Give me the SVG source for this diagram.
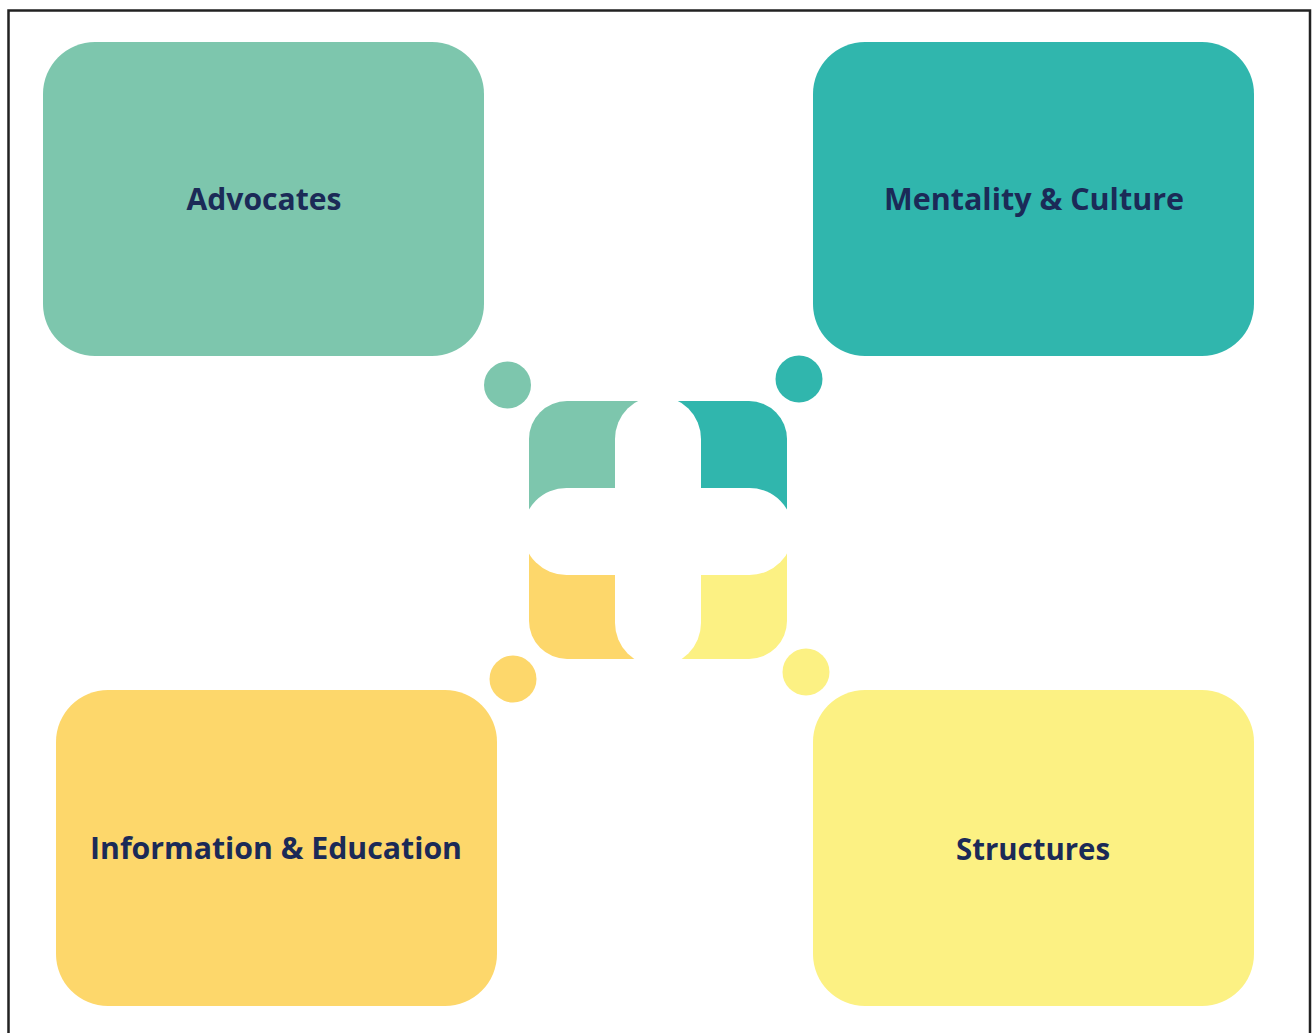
<svg xmlns="http://www.w3.org/2000/svg" width="1314" height="1033" viewBox="0 0 1314 1033">
  <defs>
    <style>
      .label { font-family: "Open Sans", "Liberation Sans", sans-serif; font-weight: 700; font-size: 31px; fill: #1B2A57; text-anchor: middle; }
      .green { fill: #7DC6AD; }
      .teal { fill: #30B6AD; }
      .orange { fill: #FDD76B; }
      .yellow { fill: #FCF183; }
    </style>
    <clipPath id="hub-clip">
      <rect x="529" y="401" width="258" height="258" rx="38"/>
    </clipPath>
  </defs>

  <rect width="1314" height="1033" fill="#ffffff"/>
  <!-- outer frame (open at the bottom) -->
  <path d="M8.5 1040 V10.5 H1310 V1040" fill="none" stroke="#222222" stroke-width="2.5"/>

  <g id="node-advocates">
    <rect class="green" x="43" y="42" width="441" height="314" rx="52"/>
    <text class="label" x="264" y="210" textLength="155" lengthAdjust="spacingAndGlyphs">Advocates</text>
  </g>

  <g id="node-mentality">
    <rect class="teal" x="813" y="42" width="441" height="314" rx="52"/>
    <text class="label" x="1034" y="210" textLength="300" lengthAdjust="spacingAndGlyphs">Mentality &amp; Culture</text>
  </g>

  <g id="node-information">
    <rect class="orange" x="56" y="690" width="441" height="316" rx="52"/>
    <text class="label" x="276" y="859" textLength="372" lengthAdjust="spacingAndGlyphs">Information &amp; Education</text>
  </g>

  <g id="node-structures">
    <rect class="yellow" x="813" y="690" width="441" height="316" rx="52"/>
    <text class="label" x="1033" y="860" textLength="154" lengthAdjust="spacingAndGlyphs">Structures</text>
  </g>

  <!-- central hub: four coloured quadrants split by a rounded white cross -->
  <g id="hub">
    <g clip-path="url(#hub-clip)">
      <rect class="green" x="529" y="401" width="129" height="130"/>
      <rect class="teal" x="658" y="401" width="129" height="130"/>
      <rect class="orange" x="529" y="531" width="129" height="128"/>
      <rect class="yellow" x="658" y="531" width="129" height="128"/>
    </g>
    <rect x="615" y="396" width="86" height="270" rx="43" fill="#ffffff"/>
    <rect x="523" y="488" width="270" height="87" rx="43.5" fill="#ffffff"/>
  </g>

  <!-- connector dots between hub and nodes -->
  <g id="connectors">
    <circle class="green" cx="507.5" cy="385" r="23.5"/>
    <circle class="teal" cx="799" cy="379" r="23.5"/>
    <circle class="orange" cx="513" cy="679" r="23.5"/>
    <circle class="yellow" cx="806" cy="672" r="23.5"/>
  </g>
</svg>
